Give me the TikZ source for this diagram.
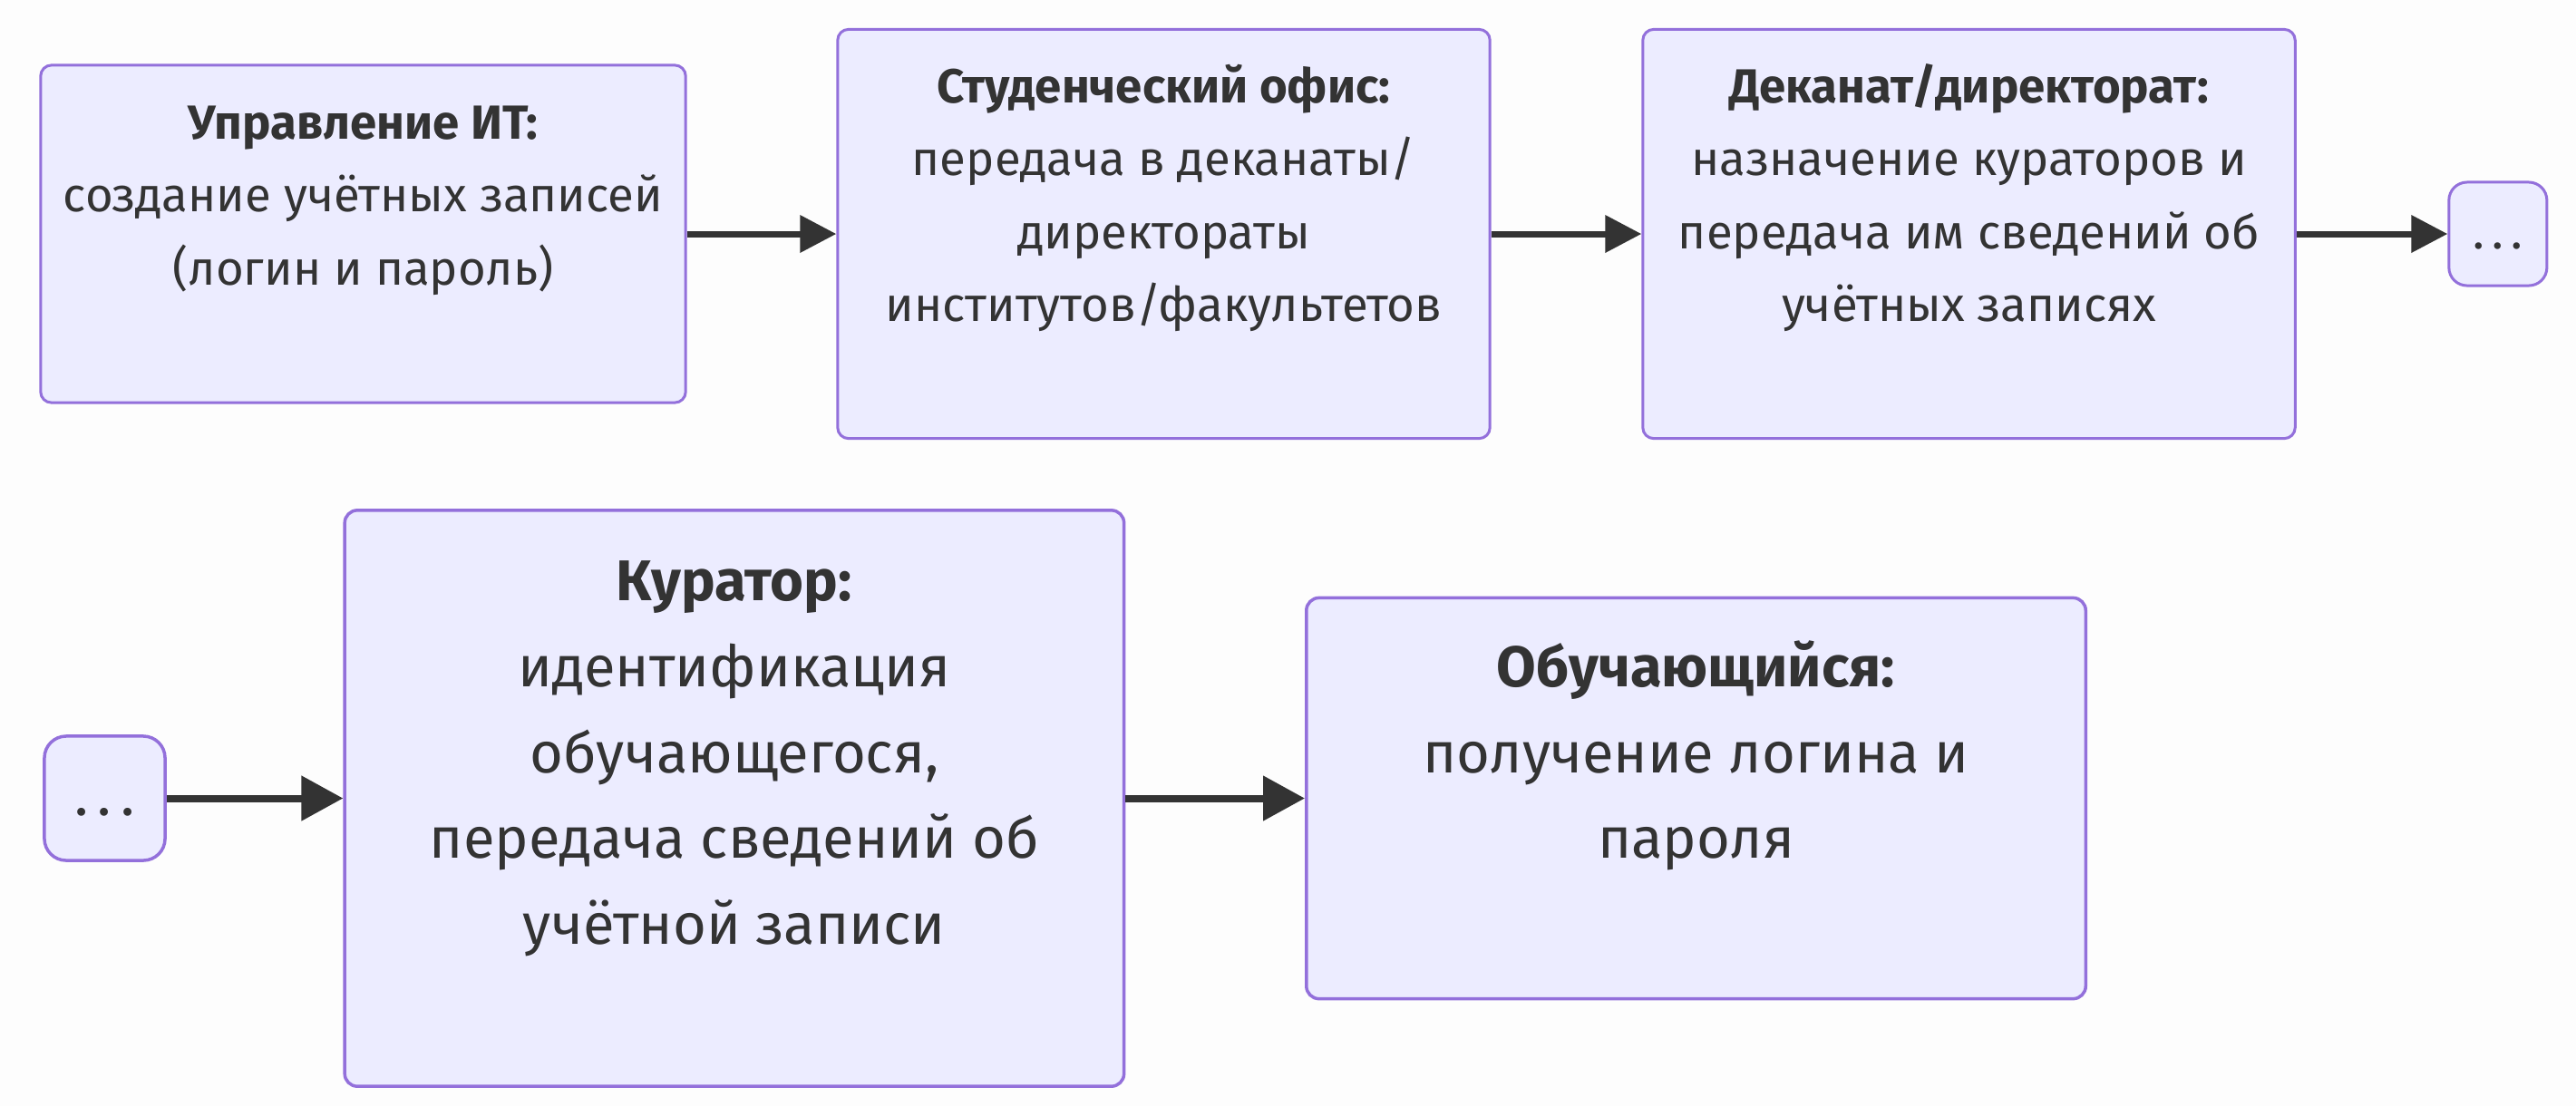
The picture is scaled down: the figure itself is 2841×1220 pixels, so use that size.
\documentclass[tikz,border=0pt]{standalone}
\usepackage{fontspec}
\setmainfont{Fira Sans}
\usetikzlibrary{arrows.meta,positioning}
\definecolor{boxfill}{HTML}{ECECFF}
\definecolor{boxline}{HTML}{9370DB}
\definecolor{inkgrey}{HTML}{333333}
\definecolor{pagebg}{HTML}{FDFDFD}

\begin{document}
\begin{tikzpicture}[x=0.01cm, y=-0.01cm,
  stage/.style={draw=boxline, fill=boxfill, line width=0.03cm, rounded corners=0.12cm, align=center, text=inkgrey, inner sep=0pt, font=\fontsize{15pt}{22.9pt}\selectfont},
  bigstage/.style={stage, line width=0.035cm, rounded corners=0.14cm, font=\fontsize{18pt}{27pt}\selectfont},
  more/.style={stage, rounded corners=0.2cm, minimum width=1.08cm, minimum height=1.14cm},
  bigmore/.style={bigstage, rounded corners=0.24cm, minimum width=1.33cm, minimum height=1.37cm},
  flow/.style={-{Triangle[length=0.4cm, width=0.4cm]}, line width=0.07cm, inkgrey},
  bigflow/.style={-{Triangle[length=0.46cm, width=0.48cm]}, line width=0.08cm, inkgrey}
]
  \fill[pagebg] (0,0) rectangle (2841,1220);

  % first row
  \node[stage, minimum width=7.11cm, minimum height=3.72cm] (itdept) at (400.5,258)
    {\strut\textbf{Управление ИТ:}\\создание учётных записей\\(логин и пароль)\\\strut};
  \node[stage, minimum width=7.19cm, minimum height=4.51cm, right=1.645cm of itdept] (office)
    {\strut\textbf{Студенческий офис:}\\передача в деканаты/\\директораты\\институтов/факультетов\\\strut};
  \node[stage, minimum width=7.19cm, minimum height=4.51cm, right=1.655cm of office] (dean)
    {\strut\textbf{Деканат/директорат:}\\назначение кураторов и\\передача им сведений об\\учётных записях\\\strut};
  \node[more, right=1.665cm of dean] (moreA) {.\,.\,.\strut};

  \draw[flow] (itdept) -- (office);
  \draw[flow] (office) -- (dean);
  \draw[flow] (dean) -- (moreA);

  % second row
  \node[bigmore] (moreB) at (115.5,880.5) {.\,.\,.\strut};
  \node[bigstage, minimum width=8.59cm, minimum height=6.35cm, right=1.945cm of moreB] (curator)
    {\strut\textbf{Куратор:}\\идентификация\\обучающегося,\\передача сведений об\\учётной записи\\\strut};
  \node[bigstage, minimum width=8.59cm, minimum height=4.42cm, right=1.975cm of curator] (learner)
    {\strut\textbf{Обучающийся:}\\получение логина и\\пароля\\\strut};

  \draw[bigflow] (moreB) -- (curator);
  \draw[bigflow] (curator) -- (learner);
\end{tikzpicture}
\end{document}
